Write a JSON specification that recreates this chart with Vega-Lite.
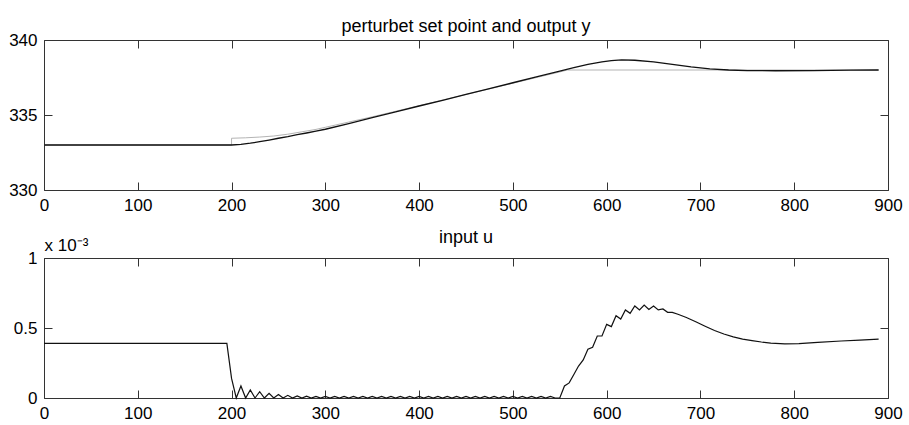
{
  "$schema": "https://vega.github.io/schema/vega-lite/v6.json",
  "background": "white",
  "padding": {"left": 8, "top": 17, "right": 5, "bottom": 5},
  "spacing": 14,
  "config": {
    "font": "Liberation Sans",
    "view": {"stroke": "#333", "strokeWidth": 1},
    "axis": {"domain": false, "grid": false, "tickColor": "#333", "tickSize": -8, "tickWidth": 1, "labelFont": "Liberation Sans", "labelFontSize": 17, "labelColor": "#000", "labelFlush": false, "labelOverlap": false},
    "title": {"fontSize": 18, "fontWeight": "normal", "font": "Liberation Sans", "color": "#000"}
  },
  "datasets": {
    "setpoint": [
      {"t":0,"r":333},{"t":200,"r":333},{"t":200,"r":333.45},{"t":215,"r":333.48},{"t":230,"r":333.53},{"t":245,"r":333.6},{"t":260,"r":333.72},{"t":275,"r":333.88},{"t":290,"r":334.04},{"t":300,"r":334.18},{"t":325,"r":334.53},{"t":350,"r":334.88},{"t":375,"r":335.25},{"t":400,"r":335.62},{"t":450,"r":336.37},{"t":500,"r":337.12},{"t":550,"r":337.87},{"t":558,"r":338.0},{"t":890,"r":338.0}
    ],
    "output": [
      {"t":0,"y":333},{"t":200,"y":333},{"t":210,"y":333.04},{"t":220,"y":333.12},{"t":230,"y":333.22},{"t":240,"y":333.33},{"t":250,"y":333.45},{"t":260,"y":333.56},{"t":270,"y":333.69},{"t":280,"y":333.8},{"t":290,"y":333.92},{"t":300,"y":334.05},{"t":325,"y":334.43},{"t":350,"y":334.82},{"t":375,"y":335.21},{"t":400,"y":335.6},{"t":425,"y":335.98},{"t":450,"y":336.37},{"t":475,"y":336.76},{"t":500,"y":337.15},{"t":525,"y":337.54},{"t":550,"y":337.93},{"t":565,"y":338.16},{"t":580,"y":338.38},{"t":595,"y":338.54},{"t":605,"y":338.62},{"t":616,"y":338.67},{"t":630,"y":338.65},{"t":650,"y":338.54},{"t":670,"y":338.38},{"t":690,"y":338.21},{"t":710,"y":338.08},{"t":730,"y":338.0},{"t":750,"y":337.96},{"t":780,"y":337.95},{"t":820,"y":337.96},{"t":860,"y":337.99},{"t":890,"y":338.0}
    ],
    "input": [
      {"t":0,"u":0.39},{"t":195,"u":0.39},{"t":200,"u":0.14},{"t":205,"u":0},{"t":210,"u":0.086},{"t":215,"u":0},{"t":220,"u":0.058},{"t":225,"u":0},{"t":230,"u":0.045},{"t":235,"u":0},{"t":240,"u":0.033},{"t":245,"u":0},{"t":250,"u":0.025},{"t":255,"u":0},{"t":260,"u":0.019},{"t":265,"u":0},{"t":270,"u":0.015},{"t":275,"u":0},{"t":280,"u":0.013},{"t":285,"u":0},{"t":290,"u":0.012},{"t":295,"u":0},
      {"t":300,"u":0.011},{"t":305,"u":0},{"t":310,"u":0.011},{"t":315,"u":0},{"t":320,"u":0.011},{"t":325,"u":0},{"t":330,"u":0.011},{"t":335,"u":0},{"t":340,"u":0.011},{"t":345,"u":0},{"t":350,"u":0.011},{"t":355,"u":0},{"t":360,"u":0.011},{"t":365,"u":0},{"t":370,"u":0.011},{"t":375,"u":0},{"t":380,"u":0.011},{"t":385,"u":0},{"t":390,"u":0.011},{"t":395,"u":0},
      {"t":400,"u":0.011},{"t":405,"u":0},{"t":410,"u":0.011},{"t":415,"u":0},{"t":420,"u":0.011},{"t":425,"u":0},{"t":430,"u":0.011},{"t":435,"u":0},{"t":440,"u":0.011},{"t":445,"u":0},{"t":450,"u":0.011},{"t":455,"u":0},{"t":460,"u":0.011},{"t":465,"u":0},{"t":470,"u":0.011},{"t":475,"u":0},{"t":480,"u":0.011},{"t":485,"u":0},{"t":490,"u":0.011},{"t":495,"u":0},
      {"t":500,"u":0.011},{"t":505,"u":0},{"t":510,"u":0.011},{"t":515,"u":0},{"t":520,"u":0.011},{"t":525,"u":0},{"t":530,"u":0.011},{"t":535,"u":0},{"t":540,"u":0.011},{"t":545,"u":0},{"t":550,"u":0},
      {"t":555,"u":0.086},{"t":560,"u":0.108},{"t":565,"u":0.168},{"t":570,"u":0.228},{"t":575,"u":0.272},{"t":580,"u":0.348},{"t":585,"u":0.362},{"t":590,"u":0.443},{"t":595,"u":0.443},{"t":600,"u":0.526},{"t":605,"u":0.51},{"t":610,"u":0.588},{"t":615,"u":0.564},{"t":620,"u":0.629},{"t":625,"u":0.605},{"t":630,"u":0.657},{"t":635,"u":0.629},{"t":640,"u":0.664},{"t":645,"u":0.633},{"t":650,"u":0.657},{"t":655,"u":0.629},{"t":660,"u":0.636},{"t":665,"u":0.612},{"t":670,"u":0.612},{"t":676,"u":0.598},{"t":685,"u":0.575},{"t":695,"u":0.545},{"t":705,"u":0.513},{"t":715,"u":0.482},{"t":725,"u":0.457},{"t":735,"u":0.437},{"t":745,"u":0.421},{"t":755,"u":0.41},{"t":765,"u":0.4},{"t":775,"u":0.392},{"t":790,"u":0.386},{"t":805,"u":0.388},{"t":825,"u":0.397},{"t":850,"u":0.407},{"t":870,"u":0.414},{"t":890,"u":0.421}
    ]
  },
  "vconcat": [
    {
      "title": {"text": "perturbet set point and output y", "offset": -5},
      "width": 844,
      "height": 150,
      "layer": [
        {
          "data": {"name": "setpoint"},
          "mark": {"type": "line", "color": "#b4b4b4", "strokeWidth": 1},
          "encoding": {
            "x": {"field": "t", "type": "quantitative", "scale": {"domain": [0, 900], "nice": false}, "axis": {"orient": "bottom", "values": [0,100,200,300,400,500,600,700,800,900], "format": "d", "title": null, "labelPadding": 15}},
            "y": {"field": "r", "type": "quantitative", "scale": {"domain": [330, 340], "zero": false, "nice": false}, "axis": {"orient": "left", "values": [330,335,340], "format": "d", "title": null, "labelPadding": 15}}
          }
        },
        {
          "data": {"name": "output"},
          "mark": {"type": "line", "color": "#111", "strokeWidth": 1.3},
          "encoding": {
            "x": {"field": "t", "type": "quantitative", "scale": {"domain": [0, 900], "nice": false}, "axis": {"orient": "top", "values": [0,100,200,300,400,500,600,700,800,900], "title": null, "labels": false}},
            "y": {"field": "y", "type": "quantitative", "scale": {"domain": [330, 340], "zero": false, "nice": false}, "axis": {"orient": "right", "values": [330,335,340], "title": null, "labels": false}}
          }
        }
      ],
      "resolve": {"axis": {"x": "independent", "y": "independent"}}
    },
    {
      "title": {"text": "input u", "offset": -11},
      "width": 844,
      "height": 140,
      "layer": [
        {
          "data": {"name": "input"},
          "mark": {"type": "line", "color": "#111", "strokeWidth": 1.2},
          "encoding": {
            "x": {"field": "t", "type": "quantitative", "scale": {"domain": [0, 900], "nice": false}, "axis": {"orient": "bottom", "values": [0,100,200,300,400,500,600,700,800,900], "format": "d", "title": null, "labelPadding": 15}},
            "y": {"field": "u", "type": "quantitative", "scale": {"domain": [0, 1], "nice": false}, "axis": {"orient": "left", "values": [0,0.5,1], "format": ".1~f", "labelPadding": 15, "title": "x 10⁻³", "titleAngle": 0, "titleAlign": "left", "titleBaseline": "alphabetic", "titleX": 0, "titleY": -8, "titleFontSize": 17, "titleFontWeight": "normal", "titleFont": "Liberation Sans", "titleColor": "#000"}}
          }
        },
        {
          "data": {"name": "input"},
          "mark": {"type": "line", "opacity": 0},
          "encoding": {
            "x": {"field": "t", "type": "quantitative", "scale": {"domain": [0, 900], "nice": false}, "axis": {"orient": "top", "values": [0,100,200,300,400,500,600,700,800,900], "title": null, "labels": false}},
            "y": {"field": "u", "type": "quantitative", "scale": {"domain": [0, 1], "nice": false}, "axis": {"orient": "right", "values": [0,0.5,1], "title": null, "labels": false}}
          }
        }
      ],
      "resolve": {"axis": {"x": "independent", "y": "independent"}}
    }
  ]
}
